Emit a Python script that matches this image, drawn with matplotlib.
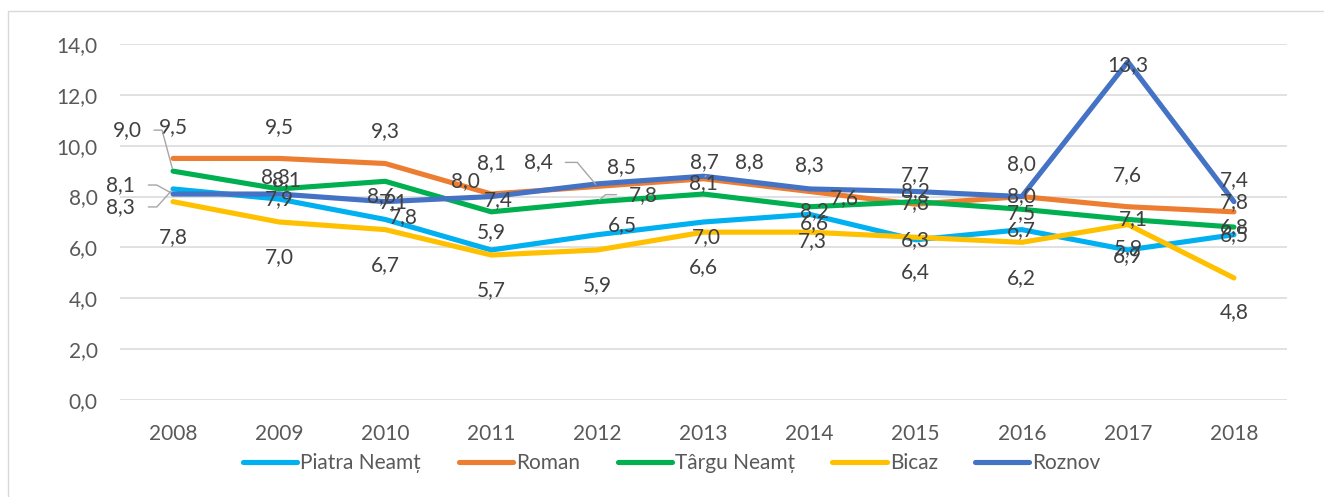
import matplotlib
matplotlib.use("Agg")
import matplotlib.pyplot as plt
from matplotlib.patches import Rectangle

plt.rcParams['font.family'] = ['Lato', 'DejaVu Sans']

years = ['2008', '2009', '2010', '2011', '2012', '2013', '2014', '2015', '2016', '2017', '2018']
piatra = [8.3, 7.9, 7.1, 5.9, 6.5, 7.0, 7.3, 6.3, 6.7, 5.9, 6.5]
roman = [9.5, 9.5, 9.3, 8.1, 8.4, 8.7, 8.2, 7.7, 8.0, 7.6, 7.4]
targu = [9.0, 8.3, 8.6, 7.4, 7.8, 8.1, 7.6, 7.8, 7.5, 7.1, 6.8]
bicaz = [7.8, 7.0, 6.7, 5.7, 5.9, 6.6, 6.6, 6.4, 6.2, 6.9, 4.8]
roznov = [8.1, 8.1, 7.8, 8.0, 8.5, 8.8, 8.3, 8.2, 8.0, 13.3, 7.8]

names = ['Piatra Neamț', 'Roman', 'Târgu Neamț', 'Bicaz', 'Roznov']
series = [piatra, roman, targu, bicaz, roznov]
colors = ['#00B0F0', '#ED7D31', '#00B050', '#FFC000', '#4472C4']

# label offsets in pixels (dx, dy up)
offsets = {
    0: [(-53, -18), (0, 0), (8, 17), (0, 18), (25, 10), (3, -15), (3, -27), (0, 0), (0, 0), (0, 2), (0, 0)],
    1: [(0, 31), (0, 31), (0, 32), (0, 31), (-59, 24), (1, 17), (5, -20), (0, 29), (0, 0), (0, 32), (0, 32)],
    2: [(-46, 41), (-4, 12), (-4, -15), (7, 12), (46, 7), (0, 11), (35, 9), (0, -1), (0, -4), (6, 0), (0, 0)],
    3: [(0, -35), (0, -35), (0, -35), (0, -35), (0, -35), (0, -35), (5, 9), (0, -35), (0, -36), (0, -32), (0, -34)],
    4: [(-53, 9), (7, 14), (18, -15), (-26, 15), (24, 17), (46, 14), (0, 24), (0, 0), (0, 32), (0, -3), (0, 0)],
}
# leader lines: (series, year index) -> (relpos, angleB, shrinkA)
leaders = {
    (2, 0): ((1, 0.5), 105, 7),
    (4, 0): ((1, 0.5), 151, 8),
    (0, 0): ((1, 0.5), 228, 8),
    (1, 4): ((1, 0.5), 130, 7),
    (2, 4): ((0, 0.5), 41, 7),
    (1, 5): ((1, 0.5), 52, 1),
}

W, H = 1324, 497
fig = plt.figure(figsize=(W / 100, H / 100), dpi=100)
ax = fig.add_axes([120 / W, 1 - 400 / H, (1287 - 120) / W, (400 - 44) / H])

x = list(range(len(years)))
for s, (name, vals, c) in enumerate(zip(names, series, colors)):
    ax.plot(x, vals, color=c, lw=3.7, solid_capstyle='round', solid_joinstyle='round',
            label=name, zorder=3 + s * 0.1)

for s, vals in enumerate(series):
    for i, v in enumerate(vals):
        dx, dy = offsets[s][i]
        txt = f"{v:.1f}".replace('.', ',')
        kw = {}
        if (s, i) in leaders:
            rp, angB, shA = leaders[(s, i)]
            kw['arrowprops'] = dict(arrowstyle='-', color='#A6A6A6', lw=1.0,
                                    connectionstyle=f'angle,angleA=0,angleB={angB},rad=0',
                                    shrinkA=shA, shrinkB=2, relpos=rp)
        ax.annotate(txt, xy=(i, v), xytext=(dx, dy), textcoords='offset pixels',
                    ha='center', va='center', fontsize=15, color='#404040', zorder=10, **kw)

ax.set_xlim(-0.5, len(years) - 0.5)
ax.set_ylim(0, 14)
ax.set_yticks(range(0, 15, 2))
ax.set_yticklabels([f"{t:.1f}".replace('.', ',') for t in range(0, 15, 2)])
ax.set_xticks(x)
ax.set_xticklabels(years)
ax.tick_params(axis='both', length=0, labelsize=15, labelcolor='#595959')
ax.tick_params(axis='y', pad=16)
ax.tick_params(axis='x', pad=17)
for sp in ax.spines.values():
    sp.set_visible(False)
ax.grid(axis='y', color='#D9D9D9', lw=1.1, zorder=0)
ax.set_axisbelow(True)

leg = fig.legend(loc='center', bbox_to_anchor=(672 / W, 1 - 463 / H), ncol=5, frameon=False,
                 fontsize=15, handlelength=2.6, handletextpad=0.15, columnspacing=1.8,
                 labelcolor='#595959')

fig.patches.append(Rectangle((8 / W, -0.1), 1.2, 1 - 11 / H + 0.1, transform=fig.transFigure,
                             fill=False, edgecolor='#D9D9D9', lw=1.0))

fig.savefig('out.png', dpi=100, facecolor='white')
